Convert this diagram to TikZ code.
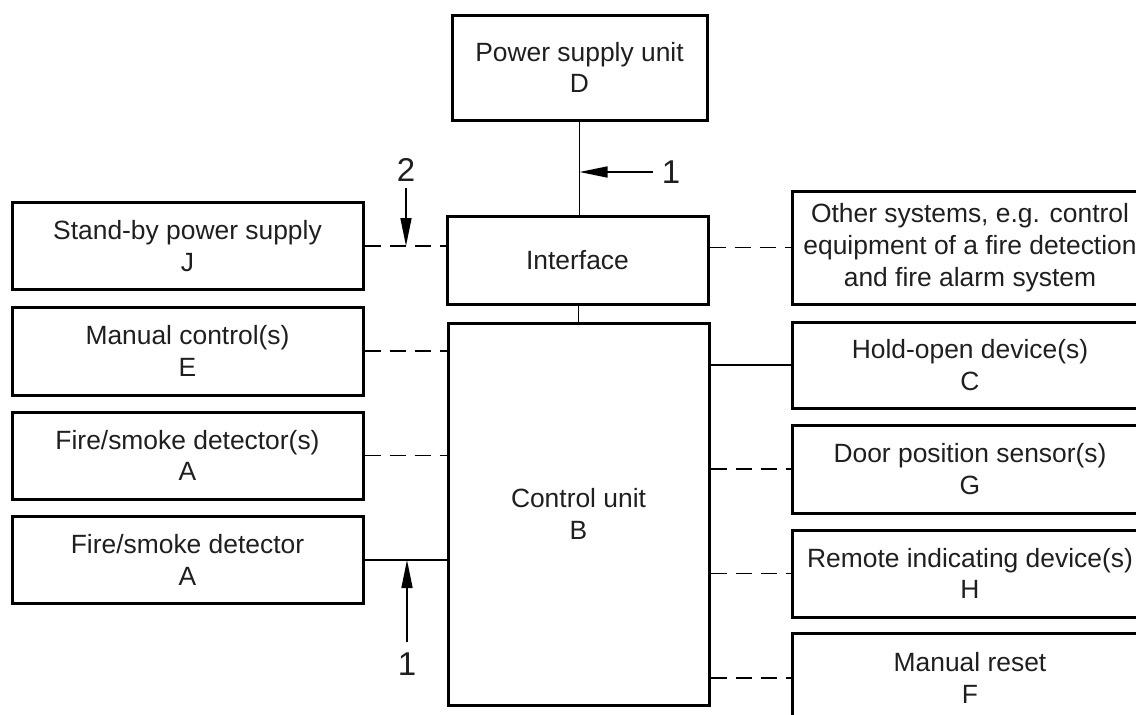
\documentclass[tikz,border=0pt]{standalone}
\usepackage{fontspec}
\setmainfont{Liberation Sans}
\usetikzlibrary{arrows.meta}
\begin{document}
\begin{tikzpicture}[x=1pt,y=-1pt,
  box/.style={draw, line width=3pt, rectangle, inner sep=0pt, align=center,
    text=black!88, font=\fontsize{26.4}{31.7}\selectfont},
  conn/.style={line width=1.6pt},
  dsh/.style={line width=1.6pt, dash pattern=on 16pt off 9pt},
  arr/.style={line width=1.6pt, -{Triangle[length=28pt,width=11pt]}},
  lbl/.style={inner sep=0pt, text=black!88, font=\fontsize{33}{33}\selectfont}]
\useasboundingbox (0,0) rectangle (1136,715);
\clip (0,0) rectangle (1136,715);
% central column
\node[box, minimum width=255pt, minimum height=105pt] (D) at (579.5,67.5) {Power supply unit\\D};
\node[box, minimum width=261pt, minimum height=88pt] (I) at (577.5,260) {Interface};
\node[box, minimum width=261pt, minimum height=382pt] (B) at (578.5,514) {Control unit\\B};
% left column
\node[box, minimum width=351pt, minimum height=87pt] (J) at (187.5,246) {Stand-by power supply\\J};
\node[box, minimum width=351pt, minimum height=88pt] (E) at (187.5,351) {Manual control(s)\\E};
\node[box, minimum width=351pt, minimum height=87pt] (A1) at (187.5,455.5) {Fire/smoke detector(s)\\A};
\node[box, minimum width=351pt, minimum height=87pt] (A2) at (187.5,560) {Fire/smoke detector\\A};
% right column
\node[box, minimum width=356pt, minimum height=113pt] (O) at (970,247.5) {Other systems, e.g. control\\equipment of a fire detection\\and fire alarm system};
\node[box, minimum width=356pt, minimum height=86pt] (C) at (970,365) {Hold-open device(s)\\C};
\node[box, minimum width=356pt, minimum height=88pt] (G) at (970,469) {Door position sensor(s)\\G};
\node[box, minimum width=356pt, minimum height=87pt] (H) at (970,573.5) {Remote indicating device(s)\\H};
\node[box, minimum width=356pt, minimum height=90pt] (F) at (970,678) {Manual reset\\F};
% connectors
\draw[conn] (D.south) -- (D.south |- I.north);
\draw[conn] (B.north |- I.south) -- (B.north);
\draw[dsh] (J.east) -- (J.east -| I.west);
\draw[dsh] (O.west -| I.east) -- (O.west);
\draw[dsh] (E.east) -- (E.east -| B.west);
\draw[dsh] (A1.east) -- (A1.east -| B.west);
\draw[conn] (A2.east) -- (A2.east -| B.west);
\draw[conn] (C.west -| B.east) -- (C.west);
\draw[dsh] (G.west -| B.east) -- (G.west);
\draw[dsh] (H.west -| B.east) -- (H.west);
\draw[dsh] (F.west -| B.east) -- (F.west);
% labels and arrows
\node[lbl] (n1) at (671,172) {1};
\draw[arr] ([xshift=-9pt]n1.west) -- (n1.west -| D.south);
\node[lbl] (n2) at (406,170) {2};
\draw[arr] ([yshift=-6pt]n2.south) -- (n2.south |- J.east);
\node[lbl] (n3) at (407,664) {1};
\draw[arr] ([yshift=10pt]n3.north) -- (n3.north |- A2.east);
\end{tikzpicture}
\end{document}
